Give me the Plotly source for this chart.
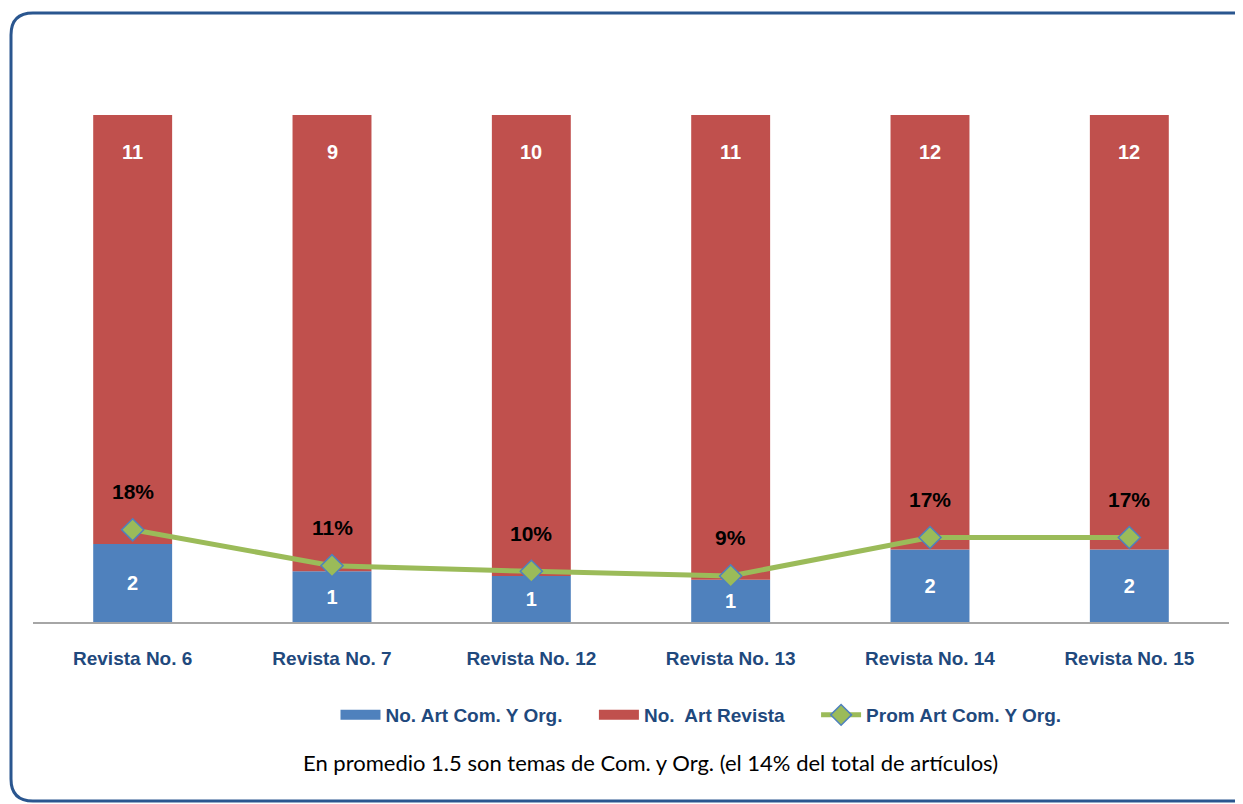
import plotly.graph_objects as go

categories = ["Revista No. 6", "Revista No. 7", "Revista No. 12", "Revista No. 13", "Revista No. 14", "Revista No. 15"]
art_com = [2, 1, 1, 1, 2, 2]
art_revista = [11, 9, 10, 11, 12, 12]
prom_pct = [round(c / r * 100) for c, r in zip(art_com, art_revista)]
prom_val = [c / r * 100 for c, r in zip(art_com, art_revista)]

BLUE = "#4F81BD"
RED = "#C0504D"
GREEN = "#9BBB59"
DARK = "#1F497D"
SANS = "Liberation Sans, Arial, sans-serif"
PAD = "\u00a0" * 5

# page offset (body margin) of 8px
OFF = 8
FW, FH = 1243 - OFF, 804 - OFF

fig = go.Figure()
fig.add_trace(go.Bar(
    x=categories, y=art_com, name="No. Art Com. Y Org.", showlegend=False, legendgroup="a",
    marker=dict(color=BLUE, line=dict(width=0)),
    text=[str(v) for v in art_com], textposition="inside", insidetextanchor="middle",
    textfont=dict(family=SANS, size=20, color="white", weight="bold"),
))
fig.add_trace(go.Bar(
    x=categories, y=art_revista, name="No.  Art Revista", showlegend=False, legendgroup="b",
    marker=dict(color=RED, line=dict(width=0)),
))
# legend entries with wide rectangular swatches
fig.add_trace(go.Scatter(x=[None], y=[None], mode="lines", name="No. Art Com. Y Org." + PAD,
                         legendgroup="a", line=dict(color=BLUE, width=14)))
fig.add_trace(go.Scatter(x=[None], y=[None], mode="lines", name="No.\u00a0 Art Revista" + PAD,
                         legendgroup="b", line=dict(color=RED, width=14)))
fig.add_trace(go.Scatter(
    x=categories, y=prom_val, name="Prom Art Com. Y Org.", mode="lines+markers",
    line=dict(color=GREEN, width=5),
    marker=dict(symbol="diamond", size=17, color=GREEN, line=dict(color=BLUE, width=1.5)),
))

annotations = []
for c, v in zip(categories, art_revista):
    annotations.append(dict(x=c, y=100, xref="x", yref="y", text=str(v), showarrow=False,
                            yshift=-37, font=dict(family=SANS, size=20, color="white", weight="bold")))
for c, v, p in zip(categories, prom_val, prom_pct):
    annotations.append(dict(x=c, y=v, xref="x", yref="y", text=f"{p}%", showarrow=False,
                            yshift=38, font=dict(family=SANS, size=21, color="black", weight="bold")))

# plot area pixel geometry (figure coords)
L, R, T, B = 33 - OFF, 1229 - OFF, 115 - OFF, 622 - OFF
W, H = R - L, B - T
def px(x): return (x - OFF - L) / W
def py(y): return (B - (y - OFF)) / H

annotations.append(dict(x=px(650), y=py(778), xref="paper", yref="paper", showarrow=False,
                        text="En promedio 1.5 son temas de Com. y Org. (el 14% del total de artículos)",
                        font=dict(family="Lato, Liberation Sans, sans-serif", size=22, color="black")))

# rounded frame (page coords); right edge runs just off the page
fl, ft, fr, fb, rad = 11, 13, 1255, 801, 22
path = (f"M {px(fl+rad)},{py(ft)} L {px(fr-rad)},{py(ft)} Q {px(fr)},{py(ft)} {px(fr)},{py(ft+rad)} "
        f"L {px(fr)},{py(fb-rad)} Q {px(fr)},{py(fb)} {px(fr-rad)},{py(fb)} "
        f"L {px(fl+rad)},{py(fb)} Q {px(fl)},{py(fb)} {px(fl)},{py(fb-rad)} "
        f"L {px(fl)},{py(ft+rad)} Q {px(fl)},{py(ft)} {px(fl+rad)},{py(ft)} Z")

fig.update_layout(
    width=FW, height=FH,
    margin=dict(l=L, r=FW - R, t=T, b=FH - B),
    barmode="relative", barnorm="percent", bargap=0.604,
    plot_bgcolor="white", paper_bgcolor="white",
    showlegend=True,
    legend=dict(orientation="h", x=px(701), y=py(715), xanchor="center", yanchor="middle",
                font=dict(family=SANS, size=19, color=DARK, weight="bold"), itemwidth=40,
                traceorder="normal", bgcolor="rgba(0,0,0,0)"),
    xaxis=dict(showline=True, linecolor="#A6A6A6", linewidth=2, ticks="",
               ticklabelstandoff=18,
               tickfont=dict(family=SANS, size=19, color=DARK, weight="bold"),
               showgrid=False, zeroline=False),
    yaxis=dict(range=[0, 100], visible=False, showgrid=False, zeroline=False),
    annotations=annotations,
    shapes=[dict(type="path", path=path, xref="paper", yref="paper",
                 line=dict(color="#2A568F", width=3), layer="above")],
)

fig.write_html("out.html")
